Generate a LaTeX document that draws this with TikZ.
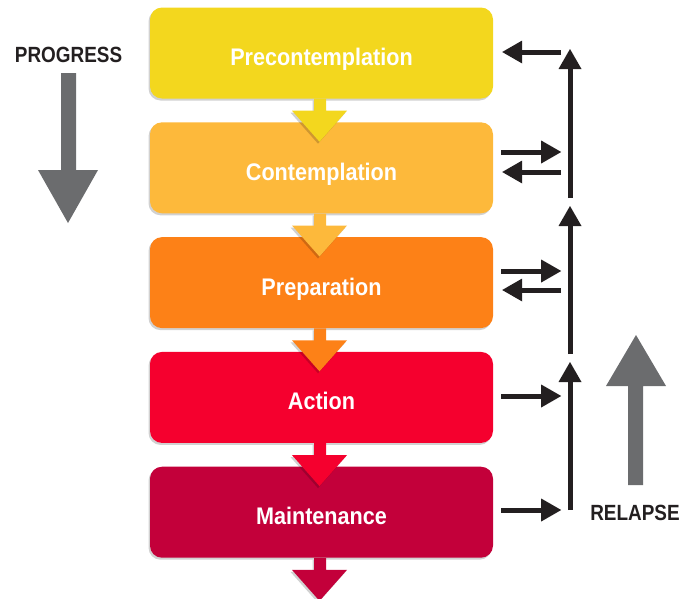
\documentclass[tikz,border=0pt]{standalone}
\usepackage{fontspec}
\setmainfont{Liberation Sans}
\newfontfamily\boxfont{Liberation Sans}[FakeStretch=0.9]
\newfontfamily\labfont{Liberation Sans}[FakeStretch=0.86]
\usetikzlibrary{arrows.meta,calc,shadows}
\definecolor{cPre}{HTML}{F3D71E}
\definecolor{cCon}{HTML}{FDB93B}
\definecolor{cPrep}{HTML}{FD8117}
\definecolor{cAct}{HTML}{F5002E}
\definecolor{cMain}{HTML}{C3003A}
\definecolor{ink}{HTML}{231F20}
\definecolor{bigarrow}{HTML}{6B6C6E}
\begin{document}
\begin{tikzpicture}[x=1pt,y=-1pt,
  softshadow/.style={drop shadow={shadow xshift=-1.5pt, shadow yshift=-2pt, opacity=0.18, fill=black}},
  stagebox/.style={draw=none, rounded corners=12pt, minimum width=343pt, minimum height=91pt,
    inner sep=0pt, text=white, font=\boxfont\bfseries\fontsize{24}{28}\selectfont,
    text height=25pt, text depth=0pt, softshadow},
  relarrow/.style={draw=ink, line width=5pt, -{Triangle[length=20pt,width=23pt,line width=0pt]}},
  sidelabel/.style={anchor=base, text=ink, font=\labfont\bfseries\fontsize{22}{26}\selectfont, inner sep=0pt},
  bigarrowfill/.style={fill=bigarrow, draw=none}
]
\useasboundingbox (0,0) rectangle (693,598);

% stage boxes
\node[stagebox, fill=cPre]  (b1) at (321.5,53)    {Precontemplation};
\node[stagebox, fill=cCon]  (b2) at (321.5,167.8) {Contemplation};
\node[stagebox, fill=cPrep] (b3) at (321.5,282.6) {Preparation};
\node[stagebox, fill=cAct]  (b4) at (321.5,397.4) {Action};
\node[stagebox, fill=cMain] (b5) at (321.5,512.2) {Maintenance};

% down arrows between stages
\foreach \b/\c in {b1/cPre,b2/cCon,b3/cPrep,b4/cAct,b5/cMain}{
  \fill[\c, softshadow] ($(\b.south)+(-7.5,0)$) -- ++(12,0) -- ++(0,12) -- ++(21,0)
     -- ($(\b.south)+(-2,43)$) -- ($(\b.south)+(-29.5,12)$) -- ++(22,0) -- cycle;
}

% relapse column coordinates
\coordinate (r1b) at (570,198);
\coordinate (r1t) at (570,49);
\coordinate (r2b) at (570,354);
\coordinate (r2t) at (570,206);
\coordinate (r3b) at (570,510);
\coordinate (r3t) at (570,362);

\draw[relarrow] (r1b) -- (r1t);
\draw[relarrow] (r2b) -- (r2t);
\draw[relarrow] (r3b) -- (r3t);

% horizontal arrows
\draw[relarrow] ($(b1.east)+(68,-1)$) -- ($(b1.east)+(9,-1)$);
\draw[relarrow] ($(b2.east)+(8,-15.8)$) -- ($(b2.east)+(68,-15.8)$);
\draw[relarrow] ($(b2.east)+(68,4.2)$) -- ($(b2.east)+(9,4.2)$);
\draw[relarrow] ($(b3.east)+(8,-11.6)$) -- ($(b3.east)+(68,-11.6)$);
\draw[relarrow] ($(b3.east)+(68,7.4)$) -- ($(b3.east)+(9,7.4)$);
\draw[relarrow] ($(b4.east)+(8,-1.4)$) -- ($(b4.east)+(68,-1.4)$);
\draw[relarrow] ($(b5.east)+(8,-2.2)$) -- ($(b5.east)+(68,-2.2)$);

% progress arrow
\node[sidelabel] (progress) at (68.5,62) {PROGRESS};
\fill[bigarrowfill] (61,73) -- (76,73) -- (76,170) -- (98,170) -- (68,223) -- (38,170) -- (61,170) -- cycle;

% relapse arrow
\node[sidelabel] (relapse) at (635,520) {RELAPSE};
\fill[bigarrowfill] (628,485) -- (643,485) -- (643,386) -- (666,386) -- (636,335) -- (606,386) -- (628,386) -- cycle;
\end{tikzpicture}
\end{document}
